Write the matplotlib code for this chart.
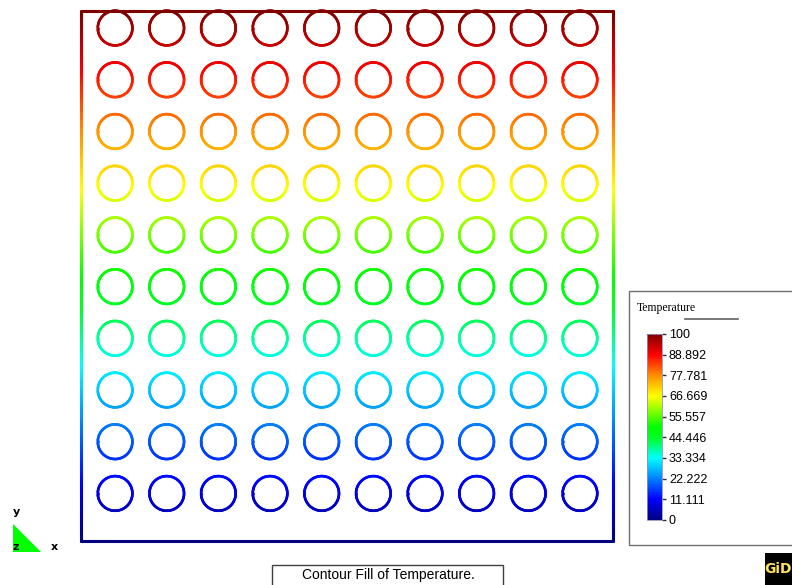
import matplotlib
matplotlib.use("Agg")
import matplotlib.pyplot as plt
import numpy as np
from matplotlib.collections import LineCollection
from matplotlib.colors import LinearSegmentedColormap, Normalize
from matplotlib.colorbar import ColorbarBase
from matplotlib.patches import Rectangle, Polygon

# boundary temperatures (bottom edge, top edge)
T_BOTTOM = 0.0
T_TOP = 100.0

# colour scale legend
CBAR_TICKS = [0, 11.111, 22.222, 33.334, 44.446, 55.557, 66.669, 77.781, 88.892, 100]
CBAR_LABELS = ["0", "11.111", "22.222", "33.334", "44.446", "55.557",
               "66.669", "77.781", "88.892", "100"]
CMAP_STOPS = [0.0, 0.11, 0.22, 0.333, 0.44, 0.5, 0.667, 0.78, 0.89, 1.0]
CMAP_COLORS = [(0.0, 0.0, 0.5), (0.0, 0.0, 1.0), (0.0, 0.5, 1.0), (0.0, 1.0, 1.0),
               (0.0, 1.0, 0.15), (0.0, 1.0, 0.0), (1.0, 1.0, 0.0), (1.0, 0.55, 0.0),
               (1.0, 0.0, 0.0), (0.5, 0.0, 0.0)]

# geometry of the plate with its grid of holes
N_COLS = 10
N_ROWS = 10
PLATE_W = 10.3
PLATE_H = 10.25
PITCH = 1.0
X_OFFSET = 0.66
TOP_OFFSET = 0.33
HOLE_R = 0.335

W_PX, H_PX = 792, 585
cmap = LinearSegmentedColormap.from_list("gid", list(zip(CMAP_STOPS, CMAP_COLORS)), N=256)
norm = Normalize(T_BOTTOM, T_TOP)


def temperature(y):
    return T_BOTTOM + (T_TOP - T_BOTTOM) * np.asarray(y) / PLATE_H


def fx(px):
    return px / W_PX


def fy(py):
    return 1 - py / H_PX


def colored_path(xs, ys, lw):
    pts = np.column_stack([xs, ys]).reshape(-1, 1, 2)
    segs = np.concatenate([pts[:-1], pts[1:]], axis=1)
    ymid = 0.5 * (ys[:-1] + ys[1:])
    lc = LineCollection(segs, colors=cmap(norm(temperature(ymid))), linewidths=lw,
                        capstyle="round", joinstyle="round")
    lc.set_clip_on(False)
    return lc


fig = plt.figure(figsize=(W_PX / 100, H_PX / 100), dpi=100)
fig.patch.set_facecolor("white")

ax = fig.add_axes([fx(81), fy(541), fx(532), 530 / H_PX])
ax.set_xlim(0, PLATE_W)
ax.set_ylim(0, PLATE_H)
ax.axis("off")

# plate outline, coloured by temperature along its edges
t = np.linspace(0, 1, 200)
ax.add_collection(colored_path(np.zeros_like(t), t * PLATE_H, 2.2))
ax.add_collection(colored_path(np.full_like(t, PLATE_W), t * PLATE_H, 2.2))
ax.add_collection(colored_path(t * PLATE_W, np.full_like(t, PLATE_H), 2.2))
ax.add_collection(colored_path(t * PLATE_W, np.zeros_like(t), 2.2))

# holes
theta = np.linspace(0, 2 * np.pi, 120)
for j in range(N_ROWS):
    cy = PLATE_H - TOP_OFFSET - j * PITCH
    for i in range(N_COLS):
        cx = X_OFFSET + i * PITCH
        ax.add_collection(colored_path(cx + HOLE_R * np.cos(theta),
                                       cy + HOLE_R * np.sin(theta), 1.9))

# legend frame (behind the colour bar)
fig.patches.append(Rectangle((fx(629), fy(545)), fx(170), 254 / H_PX,
                             transform=fig.transFigure, facecolor="white",
                             edgecolor="#707070", lw=1.0, zorder=-1))
fig.text(fx(637), fy(308), "Temperature", family="Liberation Serif", fontsize=8.5,
         ha="left", va="center")
fig.lines.append(plt.Line2D([fx(685), fx(738)], [fy(319), fy(319)],
                            transform=fig.transFigure, color="#606060", lw=1.2))

cax = fig.add_axes([fx(647), fy(520), fx(15), 186 / H_PX])
cb = ColorbarBase(cax, cmap=cmap, norm=norm, ticks=CBAR_TICKS)
cb.set_ticklabels(CBAR_LABELS)
cb.outline.set_edgecolor("#9090c0")
cb.outline.set_linewidth(0.6)
cax.tick_params(length=3, width=1, color="#303030", pad=2, labelsize=9)
for lab in cax.get_yticklabels():
    lab.set_family("Liberation Sans")

# axis triad
fig.patches.append(Polygon([(fx(13), fy(524)), (fx(13), fy(552)), (fx(41), fy(552))],
                           closed=True, transform=fig.transFigure,
                           facecolor="#00ff00", edgecolor="none"))
for label, px, py in [("y", 16, 512), ("z", 16, 547), ("x", 54, 547)]:
    fig.text(fx(px), fy(py), label, fontsize=8, fontweight="bold",
             ha="center", va="center")

# caption
fig.patches.append(Rectangle((fx(272), fy(590)), fx(231), 25 / H_PX,
                             transform=fig.transFigure, facecolor="white",
                             edgecolor="#404040", lw=1.0))
fig.text(fx(388), fy(575), "Contour Fill of Temperature.", family="Liberation Sans",
         fontsize=10, ha="center", va="center")

# logo
fig.patches.append(Rectangle((fx(765), fy(590)), fx(40), 37 / H_PX,
                             transform=fig.transFigure, facecolor="black",
                             edgecolor="none"))
fig.text(fx(778), fy(569), "GiD", family=["Liberation Sans Narrow", "DejaVu Sans"],
         fontsize=10, fontweight="bold", color="#ffe060", ha="center", va="center")

fig.savefig("out.png", dpi=100)
